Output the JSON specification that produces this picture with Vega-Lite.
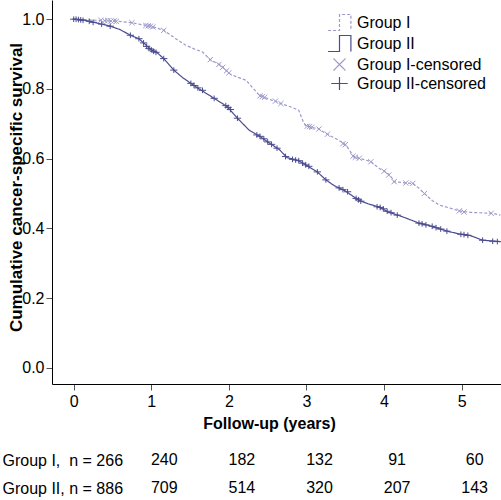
{
  "$schema": "https://vega.github.io/schema/vega-lite/v6.json",
  "padding": {"left": 2, "top": 0, "right": 0, "bottom": 0},
  "spacing": 15,
  "config": {
    "font": "Liberation Sans",
    "view": {"stroke": null},
    "axis": {"labelFontSize": 16, "titleFontSize": 16, "labelColor": "#000", "titleColor": "#000", "grid": false, "domainColor": "#000", "tickColor": "#555", "tickSize": 6}
  },
  "datasets": {
    "curves": [
      {"series": "Group II", "t": 0, "s": 1.0},
      {"series": "Group II", "t": 0.15, "s": 0.997},
      {"series": "Group II", "t": 0.26, "s": 0.991},
      {"series": "Group II", "t": 0.36, "s": 0.986},
      {"series": "Group II", "t": 0.47, "s": 0.98},
      {"series": "Group II", "t": 0.6, "s": 0.97},
      {"series": "Group II", "t": 0.73, "s": 0.954},
      {"series": "Group II", "t": 0.84, "s": 0.944},
      {"series": "Group II", "t": 0.9, "s": 0.932},
      {"series": "Group II", "t": 1.0, "s": 0.912},
      {"series": "Group II", "t": 1.08, "s": 0.903},
      {"series": "Group II", "t": 1.16, "s": 0.887},
      {"series": "Group II", "t": 1.29, "s": 0.854},
      {"series": "Group II", "t": 1.4, "s": 0.833},
      {"series": "Group II", "t": 1.51, "s": 0.816},
      {"series": "Group II", "t": 1.63, "s": 0.798},
      {"series": "Group II", "t": 1.81, "s": 0.773},
      {"series": "Group II", "t": 1.98, "s": 0.749},
      {"series": "Group II", "t": 2.11, "s": 0.716},
      {"series": "Group II", "t": 2.26, "s": 0.682},
      {"series": "Group II", "t": 2.39, "s": 0.665},
      {"series": "Group II", "t": 2.52, "s": 0.645},
      {"series": "Group II", "t": 2.65, "s": 0.626},
      {"series": "Group II", "t": 2.75, "s": 0.603},
      {"series": "Group II", "t": 2.9, "s": 0.594},
      {"series": "Group II", "t": 2.99, "s": 0.582},
      {"series": "Group II", "t": 3.14, "s": 0.562},
      {"series": "Group II", "t": 3.25, "s": 0.539},
      {"series": "Group II", "t": 3.36, "s": 0.522},
      {"series": "Group II", "t": 3.48, "s": 0.51},
      {"series": "Group II", "t": 3.58, "s": 0.495},
      {"series": "Group II", "t": 3.68, "s": 0.48},
      {"series": "Group II", "t": 3.8, "s": 0.47},
      {"series": "Group II", "t": 3.94, "s": 0.461},
      {"series": "Group II", "t": 4.05, "s": 0.447},
      {"series": "Group II", "t": 4.19, "s": 0.437},
      {"series": "Group II", "t": 4.3, "s": 0.428},
      {"series": "Group II", "t": 4.45, "s": 0.415},
      {"series": "Group II", "t": 4.6, "s": 0.407},
      {"series": "Group II", "t": 4.71, "s": 0.399},
      {"series": "Group II", "t": 4.85, "s": 0.39},
      {"series": "Group II", "t": 4.97, "s": 0.384},
      {"series": "Group II", "t": 5.1, "s": 0.38},
      {"series": "Group II", "t": 5.2, "s": 0.372},
      {"series": "Group II", "t": 5.27, "s": 0.366},
      {"series": "Group II", "t": 5.5, "s": 0.362},
      {"series": "Group I", "t": 0, "s": 1.0},
      {"series": "Group I", "t": 0.58, "s": 0.994},
      {"series": "Group I", "t": 0.75, "s": 0.99},
      {"series": "Group I", "t": 0.84, "s": 0.986},
      {"series": "Group I", "t": 1.03, "s": 0.978},
      {"series": "Group I", "t": 1.16, "s": 0.968},
      {"series": "Group I", "t": 1.31, "s": 0.945},
      {"series": "Group I", "t": 1.44, "s": 0.926},
      {"series": "Group I", "t": 1.55, "s": 0.915},
      {"series": "Group I", "t": 1.66, "s": 0.906},
      {"series": "Group I", "t": 1.76, "s": 0.884},
      {"series": "Group I", "t": 1.89, "s": 0.868},
      {"series": "Group I", "t": 2.02, "s": 0.842},
      {"series": "Group I", "t": 2.12, "s": 0.833},
      {"series": "Group I", "t": 2.22, "s": 0.825},
      {"series": "Group I", "t": 2.32, "s": 0.8},
      {"series": "Group I", "t": 2.39, "s": 0.782},
      {"series": "Group I", "t": 2.55, "s": 0.768},
      {"series": "Group I", "t": 2.67, "s": 0.758},
      {"series": "Group I", "t": 2.8, "s": 0.748},
      {"series": "Group I", "t": 2.9, "s": 0.739},
      {"series": "Group I", "t": 2.96, "s": 0.705},
      {"series": "Group I", "t": 2.99, "s": 0.694},
      {"series": "Group I", "t": 3.16, "s": 0.685},
      {"series": "Group I", "t": 3.25, "s": 0.672},
      {"series": "Group I", "t": 3.4, "s": 0.655},
      {"series": "Group I", "t": 3.51, "s": 0.639},
      {"series": "Group I", "t": 3.58, "s": 0.615},
      {"series": "Group I", "t": 3.61, "s": 0.605},
      {"series": "Group I", "t": 3.75, "s": 0.597},
      {"series": "Group I", "t": 3.83, "s": 0.591},
      {"series": "Group I", "t": 3.95, "s": 0.57},
      {"series": "Group I", "t": 4.02, "s": 0.562},
      {"series": "Group I", "t": 4.08, "s": 0.552},
      {"series": "Group I", "t": 4.13, "s": 0.534},
      {"series": "Group I", "t": 4.28, "s": 0.53},
      {"series": "Group I", "t": 4.37, "s": 0.529},
      {"series": "Group I", "t": 4.45, "s": 0.515},
      {"series": "Group I", "t": 4.52, "s": 0.5},
      {"series": "Group I", "t": 4.62, "s": 0.48},
      {"series": "Group I", "t": 4.71, "s": 0.467},
      {"series": "Group I", "t": 4.85, "s": 0.458},
      {"series": "Group I", "t": 4.97, "s": 0.45},
      {"series": "Group I", "t": 5.1, "s": 0.446},
      {"series": "Group I", "t": 5.4, "s": 0.443},
      {"series": "Group I", "t": 5.5, "s": 0.438}
    ],
    "censor": [
      {"series": "Group II-censored", "t": 0.0, "s": 1.0},
      {"series": "Group II-censored", "t": 0.03, "s": 1.0},
      {"series": "Group II-censored", "t": 0.06, "s": 0.999},
      {"series": "Group II-censored", "t": 0.09, "s": 0.998},
      {"series": "Group II-censored", "t": 0.12, "s": 0.997},
      {"series": "Group II-censored", "t": 0.2, "s": 0.994},
      {"series": "Group II-censored", "t": 0.25, "s": 0.991},
      {"series": "Group II-censored", "t": 0.36, "s": 0.986},
      {"series": "Group II-censored", "t": 0.47, "s": 0.98},
      {"series": "Group II-censored", "t": 0.73, "s": 0.954},
      {"series": "Group II-censored", "t": 0.84, "s": 0.944},
      {"series": "Group II-censored", "t": 0.9, "s": 0.932},
      {"series": "Group II-censored", "t": 0.94, "s": 0.922},
      {"series": "Group II-censored", "t": 0.97, "s": 0.916},
      {"series": "Group II-censored", "t": 1.0, "s": 0.912},
      {"series": "Group II-censored", "t": 1.03, "s": 0.908},
      {"series": "Group II-censored", "t": 1.06, "s": 0.905},
      {"series": "Group II-censored", "t": 1.16, "s": 0.887},
      {"series": "Group II-censored", "t": 1.29, "s": 0.854},
      {"series": "Group II-censored", "t": 1.51, "s": 0.816},
      {"series": "Group II-censored", "t": 1.55, "s": 0.81},
      {"series": "Group II-censored", "t": 1.6, "s": 0.803},
      {"series": "Group II-censored", "t": 1.66, "s": 0.796},
      {"series": "Group II-censored", "t": 1.81, "s": 0.773},
      {"series": "Group II-censored", "t": 1.96, "s": 0.752},
      {"series": "Group II-censored", "t": 1.99, "s": 0.747},
      {"series": "Group II-censored", "t": 2.02, "s": 0.741},
      {"series": "Group II-censored", "t": 2.11, "s": 0.716},
      {"series": "Group II-censored", "t": 2.36, "s": 0.668},
      {"series": "Group II-censored", "t": 2.4, "s": 0.664},
      {"series": "Group II-censored", "t": 2.45, "s": 0.657},
      {"series": "Group II-censored", "t": 2.5, "s": 0.648},
      {"series": "Group II-censored", "t": 2.55, "s": 0.641},
      {"series": "Group II-censored", "t": 2.62, "s": 0.63},
      {"series": "Group II-censored", "t": 2.73, "s": 0.606},
      {"series": "Group II-censored", "t": 2.82, "s": 0.598},
      {"series": "Group II-censored", "t": 2.86, "s": 0.596},
      {"series": "Group II-censored", "t": 2.9, "s": 0.594},
      {"series": "Group II-censored", "t": 2.95, "s": 0.587},
      {"series": "Group II-censored", "t": 2.99, "s": 0.582},
      {"series": "Group II-censored", "t": 3.03, "s": 0.578},
      {"series": "Group II-censored", "t": 3.14, "s": 0.562},
      {"series": "Group II-censored", "t": 3.25, "s": 0.539},
      {"series": "Group II-censored", "t": 3.42, "s": 0.516},
      {"series": "Group II-censored", "t": 3.47, "s": 0.511},
      {"series": "Group II-censored", "t": 3.53, "s": 0.505},
      {"series": "Group II-censored", "t": 3.64, "s": 0.486},
      {"series": "Group II-censored", "t": 3.67, "s": 0.482},
      {"series": "Group II-censored", "t": 3.7, "s": 0.478},
      {"series": "Group II-censored", "t": 3.91, "s": 0.462},
      {"series": "Group II-censored", "t": 3.95, "s": 0.46},
      {"series": "Group II-censored", "t": 3.99, "s": 0.456},
      {"series": "Group II-censored", "t": 4.04, "s": 0.449},
      {"series": "Group II-censored", "t": 4.09, "s": 0.445},
      {"series": "Group II-censored", "t": 4.17, "s": 0.438},
      {"series": "Group II-censored", "t": 4.45, "s": 0.415},
      {"series": "Group II-censored", "t": 4.49, "s": 0.413},
      {"series": "Group II-censored", "t": 4.54, "s": 0.41},
      {"series": "Group II-censored", "t": 4.62, "s": 0.406},
      {"series": "Group II-censored", "t": 4.67, "s": 0.402},
      {"series": "Group II-censored", "t": 4.73, "s": 0.398},
      {"series": "Group II-censored", "t": 4.81, "s": 0.392},
      {"series": "Group II-censored", "t": 4.99, "s": 0.383},
      {"series": "Group II-censored", "t": 5.03, "s": 0.382},
      {"series": "Group II-censored", "t": 5.08, "s": 0.38},
      {"series": "Group II-censored", "t": 5.27, "s": 0.366},
      {"series": "Group II-censored", "t": 5.4, "s": 0.363},
      {"series": "Group II-censored", "t": 5.46, "s": 0.362},
      {"series": "Group I-censored", "t": 0.35, "s": 0.997},
      {"series": "Group I-censored", "t": 0.4, "s": 0.996},
      {"series": "Group I-censored", "t": 0.44, "s": 0.996},
      {"series": "Group I-censored", "t": 0.48, "s": 0.995},
      {"series": "Group I-censored", "t": 0.52, "s": 0.995},
      {"series": "Group I-censored", "t": 0.55, "s": 0.994},
      {"series": "Group I-censored", "t": 0.75, "s": 0.99},
      {"series": "Group I-censored", "t": 0.93, "s": 0.982},
      {"series": "Group I-censored", "t": 0.96, "s": 0.981},
      {"series": "Group I-censored", "t": 0.99, "s": 0.98},
      {"series": "Group I-censored", "t": 1.02, "s": 0.978},
      {"series": "Group I-censored", "t": 1.16, "s": 0.968},
      {"series": "Group I-censored", "t": 1.76, "s": 0.884},
      {"series": "Group I-censored", "t": 1.87, "s": 0.87},
      {"series": "Group I-censored", "t": 1.92, "s": 0.862},
      {"series": "Group I-censored", "t": 1.97, "s": 0.852},
      {"series": "Group I-censored", "t": 2.0, "s": 0.846},
      {"series": "Group I-censored", "t": 2.4, "s": 0.78},
      {"series": "Group I-censored", "t": 2.43, "s": 0.778},
      {"series": "Group I-censored", "t": 2.46, "s": 0.776},
      {"series": "Group I-censored", "t": 2.6, "s": 0.765},
      {"series": "Group I-censored", "t": 2.67, "s": 0.758},
      {"series": "Group I-censored", "t": 3.01, "s": 0.693},
      {"series": "Group I-censored", "t": 3.04, "s": 0.692},
      {"series": "Group I-censored", "t": 3.07, "s": 0.69},
      {"series": "Group I-censored", "t": 3.16, "s": 0.685},
      {"series": "Group I-censored", "t": 3.27, "s": 0.67},
      {"series": "Group I-censored", "t": 3.47, "s": 0.643},
      {"series": "Group I-censored", "t": 3.5, "s": 0.64},
      {"series": "Group I-censored", "t": 3.6, "s": 0.607},
      {"series": "Group I-censored", "t": 3.63, "s": 0.604},
      {"series": "Group I-censored", "t": 3.68, "s": 0.601},
      {"series": "Group I-censored", "t": 3.83, "s": 0.591},
      {"series": "Group I-censored", "t": 4.0, "s": 0.564},
      {"series": "Group I-censored", "t": 4.06, "s": 0.553},
      {"series": "Group I-censored", "t": 4.13, "s": 0.534},
      {"series": "Group I-censored", "t": 4.28, "s": 0.53},
      {"series": "Group I-censored", "t": 4.37, "s": 0.529},
      {"series": "Group I-censored", "t": 4.52, "s": 0.5},
      {"series": "Group I-censored", "t": 4.97, "s": 0.45},
      {"series": "Group I-censored", "t": 5.03, "s": 0.447},
      {"series": "Group I-censored", "t": 5.38, "s": 0.443}
    ],
    "risk": [
      {"row": "Group I,\u00a0 n = 266", "t": 1, "n": "240"},
      {"row": "Group I,\u00a0 n = 266", "t": 2, "n": "182"},
      {"row": "Group I,\u00a0 n = 266", "t": 3, "n": "132"},
      {"row": "Group I,\u00a0 n = 266", "t": 4, "n": "91"},
      {"row": "Group I,\u00a0 n = 266", "t": 5, "n": "60"},
      {"row": "Group II, n = 886", "t": 1, "n": "709"},
      {"row": "Group II, n = 886", "t": 2, "n": "514"},
      {"row": "Group II, n = 886", "t": 3, "n": "320"},
      {"row": "Group II, n = 886", "t": 4, "n": "207"},
      {"row": "Group II, n = 886", "t": 5, "n": "143"}
    ]
  },
  "vconcat": [
    {
      "width": 449,
      "height": 384,
      "layer": [
        {
          "data": {"name": "curves"},
          "mark": {"type": "line", "strokeWidth": 1.2, "clip": true},
          "encoding": {
            "x": {"field": "t", "type": "quantitative", "scale": {"domain": [-0.28, 5.507], "nice": false, "zero": false},
              "axis": {"values": [0, 1, 2, 3, 4, 5], "format": "d", "title": "Follow-up (years)", "titleFontWeight": "bold", "labelPadding": 3, "titlePadding": 6, "titleX": 217}},
            "y": {"field": "s", "type": "quantitative", "scale": {"domain": [-0.0465, 1.0551], "nice": false, "zero": false},
              "axis": {"values": [0, 0.2, 0.4, 0.6, 0.8, 1.0], "format": ".1f", "title": "Cumulative cancer-specific survival", "titleFontWeight": "bold", "titleFontSize": 17, "labelPadding": 2, "titleX": -27, "titleY": 187}},
            "color": {"field": "series", "type": "nominal",
              "scale": {"domain": ["Group I", "Group II", "Group I-censored", "Group II-censored"], "range": ["#9c99cb", "#4b4b8f", "#9c99cb", "#4b4b8f"]},
              "legend": {"title": null, "orient": "none", "legendX": 277, "legendY": 12, "symbolSize": 361, "labelFontSize": 16, "labelOffset": 7, "symbolStrokeWidth": 1.2, "padding": 0, "rowPadding": 0, "labelColor": "#000"}},
            "strokeDash": {"field": "series", "type": "nominal",
              "scale": {"domain": ["Group I", "Group II", "Group I-censored", "Group II-censored"], "range": [[3, 2], [1, 0], [1, 0], [1, 0]]},
              "legend": {"title": null, "orient": "none", "legendX": 277, "legendY": 12, "symbolSize": 361, "labelFontSize": 16, "labelOffset": 7, "symbolStrokeWidth": 1.2, "padding": 0, "rowPadding": 0, "labelColor": "#000"}}
          }
        },
        {
          "data": {"name": "censor"},
          "mark": {"type": "point", "filled": false, "size": 70, "strokeWidth": 1, "opacity": 1, "clip": true},
          "encoding": {
            "x": {"field": "t", "type": "quantitative"},
            "y": {"field": "s", "type": "quantitative"},
            "color": {"field": "series", "type": "nominal"},
            "shape": {"field": "series", "type": "nominal",
              "scale": {"domain": ["Group I", "Group II", "Group I-censored", "Group II-censored"],
                "range": ["M-1.2,0.84H0V-0.84H1.2V0.84", "M-1.2,0.84H0V-0.84H1.2V0.84", "M-0.63,-0.63L0.63,0.63M-0.63,0.63L0.63,-0.63", "M-0.87,0H0.87M0,-0.68V0.68"]},
              "legend": {"title": null, "orient": "none", "legendX": 277, "legendY": 12, "symbolSize": 361, "labelFontSize": 16, "labelOffset": 7, "symbolStrokeWidth": 1.2, "padding": 0, "rowPadding": 0, "labelColor": "#000"}}
          }
        }
      ]
    },
    {
      "width": 449,
      "height": 56,
      "data": {"name": "risk"},
      "mark": {"type": "text", "fontSize": 16, "dx": 13, "color": "#000"},
      "encoding": {
        "x": {"field": "t", "type": "quantitative", "scale": {"domain": [-0.28, 5.507], "nice": false, "zero": false}, "axis": null},
        "y": {"field": "row", "type": "nominal", "sort": ["Group I,\u00a0 n = 266", "Group II, n = 886"], "scale": {"paddingInner": 0, "paddingOuter": 0},
          "axis": {"title": null, "domain": false, "ticks": false, "tickSize": 0, "labelAlign": "left", "labelPadding": 50, "labelFontSize": 16}},
        "text": {"field": "n", "type": "nominal"}
      }
    }
  ]
}
